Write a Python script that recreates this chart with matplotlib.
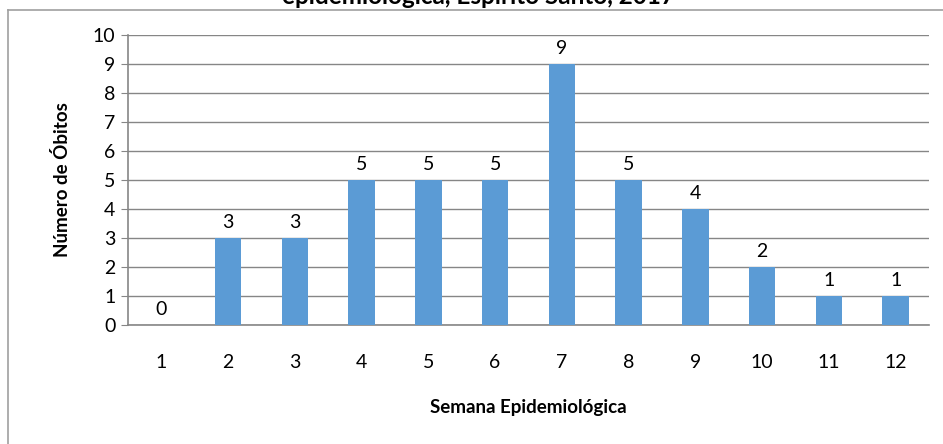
import matplotlib.pyplot as plt
from matplotlib.lines import Line2D

semanas = ["1", "2", "3", "4", "5", "6", "7", "8", "9", "10", "11", "12"]
obitos = [0, 3, 3, 5, 5, 5, 9, 5, 4, 2, 1, 1]

plt.rcParams['font.family'] = ['Lato', 'DejaVu Sans']

W, H = 943, 444
fig = plt.figure(figsize=(W / 100, H / 100), dpi=100)
ax = fig.add_axes([128 / W, 1 - 325 / H, (929 - 128) / W, (325 - 35) / H])

x = range(len(semanas))
ax.bar(x, obitos, width=0.4, color='#5B9BD5', zorder=3)
for xi, v in zip(x, obitos):
    ax.annotate(str(v), (xi, v), xytext=(0, 5), textcoords='offset points',
                ha='center', va='bottom', fontsize=14)

ax.set_xlim(-0.5, len(semanas) - 0.5)
ax.set_ylim(0, 10)
ax.set_yticks(range(0, 11))
ax.set_xticks(list(x))
ax.set_xticklabels(semanas)
ax.tick_params(axis='x', length=0, pad=21, labelsize=14)
ax.tick_params(axis='y', length=5, color='#868686', labelsize=14, pad=4)
ax.grid(axis='y', color='#868686', linewidth=1, zorder=0)
for s in ['top', 'right']:
    ax.spines[s].set_visible(False)
for s in ['left', 'bottom']:
    ax.spines[s].set_color('#868686')
    ax.spines[s].set_linewidth(1.2)

ax.set_xlabel('Semana Epidemiológica', fontsize=13.5, fontweight='bold', labelpad=20)
ax.set_ylabel('Número de Óbitos', fontsize=13.5, fontweight='bold', labelpad=16)

# outer chart-area border (cropped)
fig.add_artist(Line2D([8 / W, 8 / W], [0, 1 - 10 / H], color='#A0A0A0', lw=1.2,
                      transform=fig.transFigure))
fig.add_artist(Line2D([8 / W, 1], [1 - 10 / H, 1 - 10 / H], color='#A0A0A0', lw=1.2,
                      transform=fig.transFigure))
# title, cropped at the top edge
fig.text(478 / W, 1 - 8 / H, 'epidemiológica, Espírito Santo, 2017', ha='center', va='bottom',
         fontsize=17.5, fontweight='bold')

fig.savefig('out.png', dpi=100)
